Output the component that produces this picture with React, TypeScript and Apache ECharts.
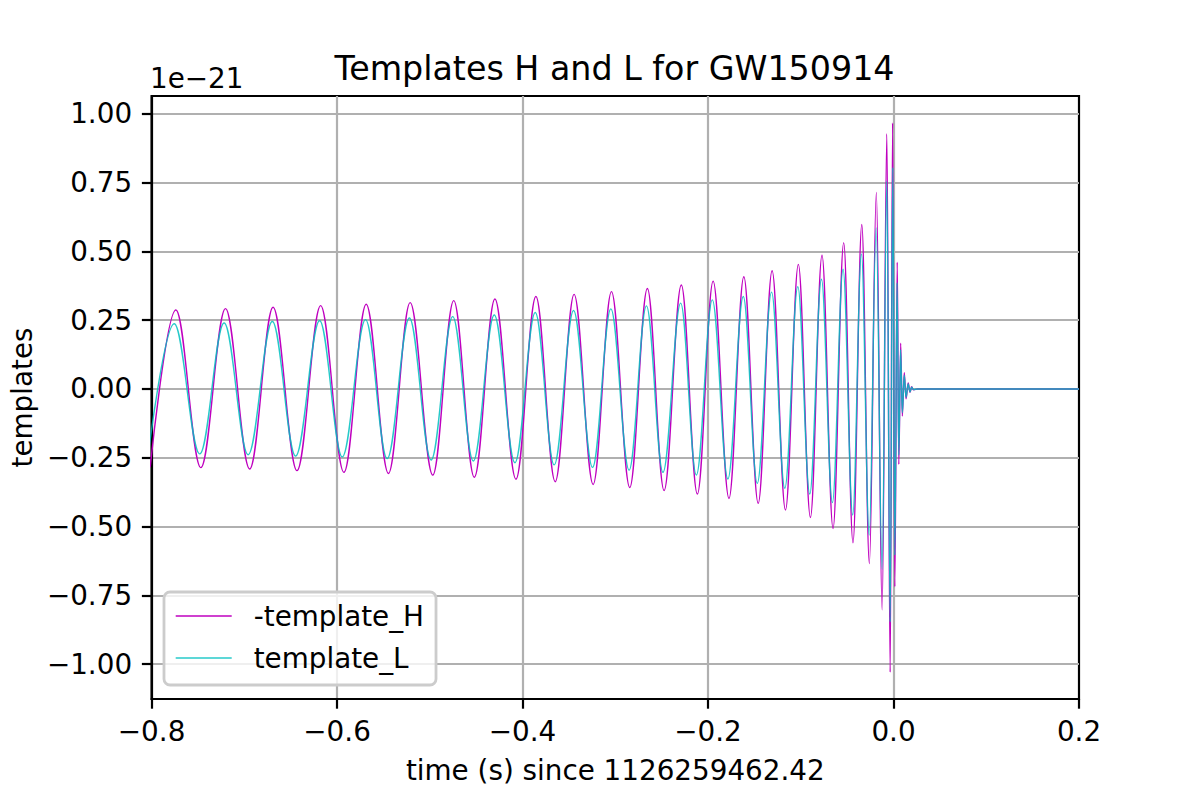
import React, { useEffect, useRef } from "react";
import * as echarts from "echarts";

const chartTitle = "Templates H and L for GW150914";
const xAxisLabel = "time (s) since 1126259462.42";
const yAxisLabel = "templates";
const yOffsetText = "1e\u221221";
const seriesNames = ["-template_H", "template_L"];

const xTicks = [-0.8, -0.6, -0.4, -0.2, 0.0, 0.2];
const yTicks = [-1.0, -0.75, -0.5, -0.25, 0, 0.25, 0.5, 0.75, 1.0];

// -template_H : extrema (time s, strain in units of 1e-21)
const hTimes = [
  -0.8015, -0.7738, -0.7469, -0.7203, -0.6942, -0.669, -0.6432, -0.6177, -0.5926, -0.5686,
  -0.5446, -0.5212, -0.4968, -0.4742, -0.452, -0.4298, -0.4071, -0.3856, -0.3648, -0.3444,
  -0.3239, -0.3041, -0.2844, -0.2654, -0.2474, -0.2288, -0.2115, -0.1945, -0.1774, -0.1614,
  -0.1459, -0.1309, -0.1165, -0.1026, -0.0896, -0.0771, -0.0652, -0.0537, -0.0437, -0.0342,
  -0.026, -0.0185, -0.0123, -0.0072, -0.0036, -0.001, 0.0014, 0.004, 0.0057, 0.0077,
  0.0095, 0.0116, 0.0135, 0.0158, 0.0178, 0.0195, 0.0215, 0.026, 0.2,
];
const hValues = [
  -0.284, 0.287, -0.286, 0.292, -0.291, 0.297, -0.297, 0.303, -0.303, 0.308,
  -0.307, 0.314, -0.313, 0.321, -0.321, 0.327, -0.328, 0.336, -0.337, 0.344,
  -0.347, 0.354, -0.358, 0.365, -0.369, 0.378, -0.382, 0.392, -0.398, 0.408,
  -0.416, 0.43, -0.44, 0.453, -0.467, 0.486, -0.507, 0.532, -0.559, 0.598,
  -0.635, 0.714, -0.803, 0.928, -1.03, 0.967, -0.719, 0.461, -0.274, 0.166,
  -0.098, 0.059, -0.036, 0.022, -0.012, 0.008, -0.003, 0, 0,
];

// template_L : extrema
const lTimes = [
  -0.8035, -0.7756, -0.748, -0.7218, -0.6959, -0.6698, -0.6447, -0.6188, -0.5944, -0.5693,
  -0.546, -0.522, -0.4986, -0.4753, -0.4531, -0.4305, -0.4082, -0.3863, -0.3659, -0.345,
  -0.3245, -0.3048, -0.2851, -0.2664, -0.2486, -0.2295, -0.2126, -0.1954, -0.1786, -0.162,
  -0.1469, -0.1315, -0.1172, -0.1032, -0.0903, -0.0777, -0.0659, -0.0544, -0.044, -0.0346,
  -0.0262, -0.0187, -0.0123, -0.0072, -0.0036, -0.0008, 0.0014, 0.0038, 0.0057, 0.0076,
  0.0095, 0.0116, 0.0135, 0.0158, 0.0178, 0.0195, 0.0215, 0.026, 0.2,
];
const lValues = [
  -0.235, 0.237, -0.236, 0.24, -0.239, 0.245, -0.244, 0.248, -0.247, 0.252,
  -0.253, 0.258, -0.258, 0.263, -0.262, 0.269, -0.268, 0.278, -0.276, 0.285,
  -0.285, 0.291, -0.295, 0.302, -0.303, 0.312, -0.313, 0.324, -0.327, 0.336,
  -0.343, 0.352, -0.361, 0.372, -0.382, 0.399, -0.413, 0.435, -0.458, 0.491,
  -0.531, 0.585, -0.656, 0.756, -0.847, 0.805, -0.604, 0.386, -0.24, 0.143,
  -0.086, 0.05, -0.03, 0.018, -0.01, 0.006, -0.002, 0, 0,
];

const FONT = "DejaVu Sans";
const FS = 27.8;

function fmt(v: number, digits: number): string {
  let s = v.toFixed(digits);
  if (/^-0\.0+$/.test(s)) s = s.slice(1);
  return s.replace("-", "\u2212");
}

export default function App() {
  const ref = useRef<HTMLDivElement>(null);

  useEffect(() => {
    if (!ref.current) return;
    const chart = echarts.init(ref.current, undefined, { renderer: "svg" });
    const hData = hTimes.map((t, i) => [t, hValues[i]]);
    const lData = lTimes.map((t, i) => [t, lValues[i]]);

    chart.setOption({
      animation: false,
      backgroundColor: "#ffffff",
      textStyle: { fontFamily: FONT },
      grid: {
        left: 150,
        top: 96,
        width: 929,
        height: 603,
        show: true,
        borderColor: "#000000",
        borderWidth: 2.2,
        backgroundColor: "transparent",
      },
      graphic: [
        {
          type: "text",
          x: 614.5,
          y: 68,
          z: 10,
          style: {
            text: chartTitle,
            font: `33.3px "${FONT}"`,
            fill: "#000000",
            textAlign: "center",
            textVerticalAlign: "middle",
          },
        },
        {
          type: "text",
          x: 150,
          y: 78,
          z: 10,
          style: {
            text: yOffsetText,
            font: `${FS}px "${FONT}"`,
            fill: "#000000",
            textAlign: "left",
            textVerticalAlign: "middle",
          },
        },
      ],
      legend: {
        orient: "vertical",
        align: "left",
        left: 164,
        top: 592,
        data: seriesNames,
        itemWidth: 56,
        itemHeight: 28,
        itemGap: 14,
        padding: [10, 12, 13, 11],
        backgroundColor: "rgba(255,255,255,0.8)",
        borderColor: "#cccccc",
        borderWidth: 2.8,
        borderRadius: 6,
        z: 20,
        itemStyle: { opacity: 0, borderWidth: 0 },
        lineStyle: { width: 1.4 },
        textStyle: {
          fontFamily: FONT,
          fontSize: FS,
          color: "#000000",
          lineHeight: 28,
          padding: [0, 0, 0, 17],
        },
      },
      xAxis: {
        type: "value",
        min: xTicks[0],
        max: xTicks[xTicks.length - 1],
        interval: 0.2,
        name: xAxisLabel,
        nameLocation: "middle",
        nameGap: 57,
        nameTextStyle: { fontFamily: FONT, fontSize: FS, color: "#000000" },
        axisLine: { show: true, onZero: false, lineStyle: { color: "#000000", width: 2.2 } },
        axisTick: { show: true, inside: false, length: 9.7, lineStyle: { color: "#000000", width: 2.2 } },
        axisLabel: {
          margin: 18,
          fontFamily: FONT,
          fontSize: FS,
          color: "#000000",
          formatter: (v: number) => fmt(v, 1),
        },
        splitLine: {
          show: true,
          showMinLine: false,
          showMaxLine: false,
          lineStyle: { color: "#b0b0b0", width: 2.2 },
        },
      },
      yAxis: {
        type: "value",
        min: -1.127,
        max: 1.065,
        name: yAxisLabel,
        nameLocation: "middle",
        nameRotate: 90,
        nameGap: 114,
        nameTextStyle: { fontFamily: FONT, fontSize: FS, color: "#000000" },
        axisLine: { show: true, onZero: false, lineStyle: { color: "#000000", width: 2.2 } },
        axisTick: {
          show: true,
          inside: false,
          length: 9.7,
          customValues: yTicks,
          lineStyle: { color: "#000000", width: 2.2 },
        },
        axisLabel: {
          margin: 19.5,
          fontFamily: FONT,
          fontSize: FS,
          color: "#000000",
          customValues: yTicks,
          formatter: (v: number) => fmt(v, 2),
        },
        splitLine: { show: true, lineStyle: { color: "#b0b0b0", width: 2.2 } },
      },
      series: [
        {
          name: seriesNames[0],
          type: "line",
          data: hData,
          symbol: "none",
          showSymbol: false,
          smooth: 0.364,
          smoothMonotone: "x",
          clip: true,
          lineStyle: { color: "#bf00bf", width: 1.4 },
          itemStyle: { color: "#bf00bf" },
          z: 3,
        },
        {
          name: seriesNames[1],
          type: "line",
          data: lData,
          symbol: "none",
          showSymbol: false,
          smooth: 0.364,
          smoothMonotone: "x",
          clip: true,
          lineStyle: { color: "#00bfbf", width: 1.4, opacity: 0.85 },
          itemStyle: { color: "#00bfbf" },
          z: 4,
        },
      ],
    });
    return () => chart.dispose();
  }, []);

  return (
    <div
      ref={ref}
      style={{ position: "fixed", left: 0, top: 0, width: 1200, height: 800, background: "#fff" }}
    />
  );
}
